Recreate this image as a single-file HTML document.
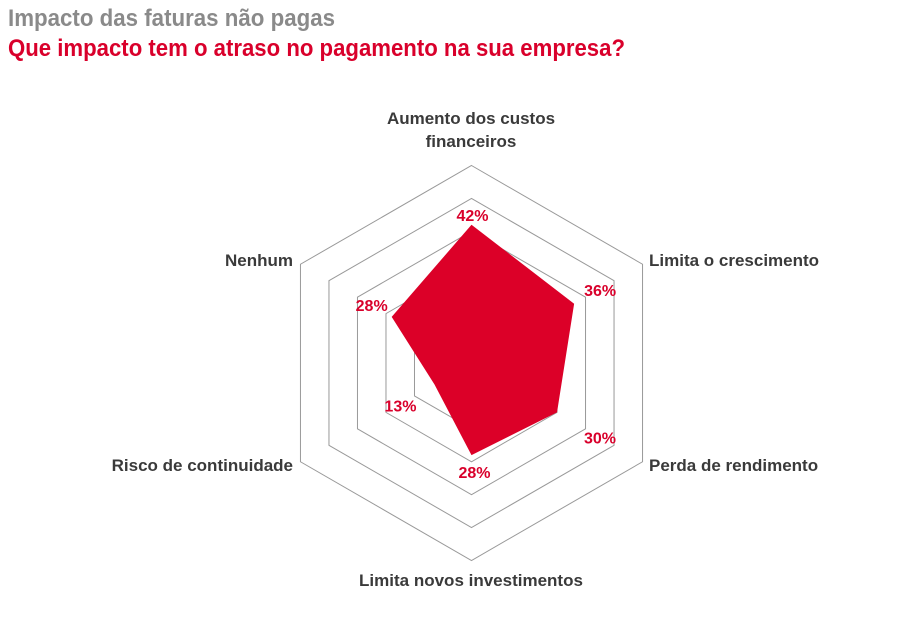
<!DOCTYPE html>
<html><head><meta charset="utf-8"><style>
html,body{margin:0;padding:0;background:#fff;}
svg{display:block;font-family:"Liberation Sans Narrow","Liberation Sans",sans-serif;}
</style></head><body>
<svg id="chart" width="921" height="626" viewBox="0 0 921 626">
<text x="8" y="26" font-size="24" font-weight="bold" fill="#8a8a8a" textLength="327" lengthAdjust="spacingAndGlyphs">Impacto das faturas não pagas</text>
<text x="8" y="56" font-size="24" font-weight="bold" fill="#d9002b" textLength="617" lengthAdjust="spacingAndGlyphs">Que impacto tem o atraso no pagamento na sua empresa?</text>
<g id="grid"></g>
<g id="area"></g>
<g id="labels"></g>
</svg>
<script>
const categories = ["Aumento dos custos|financeiros","Limita o crescimento","Perda de rendimento","Limita novos investimentos","Risco de continuidade","Nenhum"];
const values = [42,36,30,28,13,28];
const ringTicks = [10,20,30,40,50,60];
const maxValue = 60;

const NS="http://www.w3.org/2000/svg";
const cx=471.5, cy=363, R=197.5;
const rScale=v=>v/maxValue*R;
const ang=i=>-Math.PI/2+i*Math.PI/3;
const pt=(i,v)=>[cx+rScale(v)*Math.cos(ang(i)), cy+rScale(v)*Math.sin(ang(i))];
const grid=document.getElementById('grid'), area=document.getElementById('area'), labels=document.getElementById('labels');

ringTicks.forEach(t=>{
  const p=document.createElementNS(NS,'polygon');
  p.setAttribute('points',categories.map((c,i)=>pt(i,t).join(',')).join(' '));
  p.setAttribute('fill','none');p.setAttribute('stroke','#999');p.setAttribute('stroke-width','1');
  
  
  grid.appendChild(p);
});

const poly=document.createElementNS(NS,'polygon');
poly.setAttribute('points',values.map((v,i)=>pt(i,v).join(',')).join(' '));
poly.setAttribute('fill','#dc0028');


area.appendChild(poly);

const valOff=[[1,-10],[26,-14],[43,25],[3,17],[-34,21],[-20,-12]];
values.forEach((v,i)=>{
  const [x,y]=pt(i,v);
  const t=document.createElementNS(NS,'text');
  t.setAttribute('x',x+valOff[i][0]);t.setAttribute('y',y+valOff[i][1]+6);
  t.setAttribute('text-anchor','middle');t.setAttribute('font-size','16');t.setAttribute('font-weight','bold');t.setAttribute('fill','#d9002b');
  t.textContent=v+'%';
  
  
  labels.appendChild(t);
});

const catPos=[[471,124,'middle'],[649,266,'start'],[649,471,'start'],[471,586,'middle'],[293,471,'end'],[293,266,'end']];
categories.forEach((c,i)=>{
  const lines=c.split('|');
  lines.forEach((ln,j)=>{
    const t=document.createElementNS(NS,'text');
    t.setAttribute('x',catPos[i][0]);t.setAttribute('y',catPos[i][1]+j*23);
    t.setAttribute('text-anchor',catPos[i][2]);t.setAttribute('font-size','17');t.setAttribute('font-weight','bold');t.setAttribute('fill','#3a3a3a');
    t.textContent=ln;
    
    
    labels.appendChild(t);
  });
});
</script>
</body></html>
